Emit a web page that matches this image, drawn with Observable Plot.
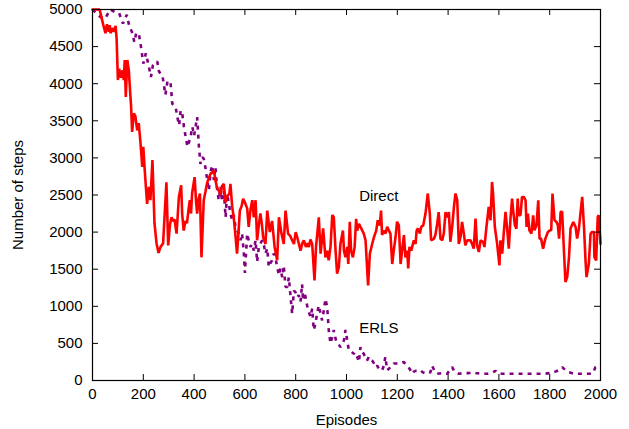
<!DOCTYPE html>
<html>
<head>
<meta charset="utf-8">
<script src="https://cdn.jsdelivr.net/npm/d3@7"></script>
<script src="https://cdn.jsdelivr.net/npm/@observablehq/plot@0.6"></script>
<style>
  html, body { margin: 0; padding: 0; background: #fff; }
  #chart { width: 629px; height: 429px; }
</style>
</head>
<body>
<div id="chart"></div>
<script>
// ---- data ----
const xTicks = [0, 200, 400, 600, 800, 1000, 1200, 1400, 1600, 1800, 2000];
const yTicks = [0, 500, 1000, 1500, 2000, 2500, 3000, 3500, 4000, 4500, 5000];
const xLabel = "Episodes";
const yLabel = "Number of steps";
const seriesNames = ["Direct", "ERLS"];
const seriesLabelEpisode = [1050, 1050];
const seriesLabelSteps = [2480, 700];

const directEpisodes = [0,10,20,28,35,42,51,57,64,68,71,78,84,91,95,100,105,112,118,123,127,131,137,143,148,152,156,163,169,176,182,189,196,200,205,212,215,222,228,236,244,252,260,268,278,291,298,305,311,317,323,331,340,349,353,359,366,372,378,383,388,392,402,408,412,418,423,429,438,445,451,458,465,472,478,484,490,497,504,510,517,524,530,539,543,550,556,563,569,575,580,587,593,600,609,615,622,629,635,642,648,655,661,667,672,681,688,698,707,717,727,734,744,753,760,770,778,786,793,800,806,812,819,826,832,840,846,852,858,865,874,880,891,898,908,917,924,930,937,944,950,957,963,970,976,986,990,996,1003,1007,1013,1018,1025,1032,1038,1042,1049,1055,1068,1075,1085,1092,1101,1108,1117,1123,1131,1136,1140,1147,1154,1160,1167,1173,1180,1186,1193,1199,1206,1213,1219,1226,1232,1239,1243,1248,1255,1265,1272,1276,1281,1289,1294,1302,1311,1320,1328,1333,1344,1350,1357,1363,1370,1377,1383,1390,1396,1403,1409,1416,1423,1429,1436,1442,1449,1455,1462,1468,1475,1488,1494,1501,1508,1514,1521,1528,1538,1543,1551,1560,1567,1573,1577,1584,1593,1602,1606,1613,1619,1626,1632,1639,1646,1652,1656,1663,1669,1674,1678,1685,1691,1698,1705,1709,1714,1720,1728,1735,1740,1748,1755,1760,1766,1774,1783,1793,1801,1806,1811,1819,1827,1832,1837,1843,1849,1856,1862,1869,1876,1882,1893,1902,1908,1915,1921,1928,1935,1941,1945,1954,1961,1967,1974,1976,1983,1989,1993,2000];
const directSteps = [5000,5000,5000,5000,4900,4800,4680,4800,4700,4790,4680,4750,4700,4780,4600,4050,4200,4080,4180,4050,4320,3820,4320,4180,3900,3690,3350,3600,3560,3370,3470,3200,2880,3150,2870,2520,2380,2610,2430,2970,2120,1850,1720,1800,1850,2670,1820,2100,2200,2150,2170,1980,2470,2630,2250,2020,2150,2120,2300,2430,2250,2520,2740,2400,2250,2450,2520,1660,2430,2550,2660,2730,2790,2800,2830,2700,2600,2560,2500,2620,2650,2400,2480,2520,2650,2340,2200,1950,1710,2000,2290,2350,2450,2400,2320,2070,2300,2430,2200,2430,1890,2100,2250,2100,1930,1840,2290,2000,2150,1800,1620,2200,1980,1840,2290,1980,1950,1890,1840,2000,1930,1850,1750,1850,1890,1800,1850,1800,1900,1840,1350,1800,2200,1710,2050,1660,1750,1620,1800,2230,2200,1750,1440,1530,1840,2020,1750,1660,1800,1570,2140,1750,1660,1800,2180,2020,2110,2070,1980,1890,1280,1710,1840,1930,2020,2160,2090,2290,1960,2020,1980,2070,2020,1980,1570,1750,1930,2140,2090,1570,1750,1960,1660,1750,1510,1800,1750,1890,1840,2020,2050,1980,2070,2090,2250,2520,2250,1890,1910,1960,2110,2270,1910,1890,1980,2270,2200,2270,1870,2070,2340,2520,2430,1840,1934,2137,1979,1822,1889,1889,1844,1777,2182,1822,1732,1889,1867,1799,2069,2339,2159,2676,2519,2069,1844,1552,1889,1709,1979,2272,2069,1777,2204,2452,2294,2092,2047,2452,2227,2227,2474,2474,2429,2069,2249,2024,1979,2227,2024,2092,2429,1912,1912,1777,1912,2002,2024,2024,2519,2159,2137,2092,1912,2272,2272,1754,1327,1394,1664,2047,2137,2069,1912,2047,2249,2474,2069,1619,1394,1574,1979,2002,2002,1664,1619,2204,2227,1844];

const erlsEpisodes = [0,15,30,50,70,90,105,120,135,145,155,165,172,182,190,200,210,222,230,238,255,262,275,287,295,307,314,327,334,341,347,354,360,367,374,386,393,400,412,419,425,432,438,445,451,458,465,471,478,484,491,497,504,510,517,524,530,537,543,550,556,563,570,576,583,589,596,600,609,616,622,629,635,642,648,655,662,668,675,681,688,694,700,707,714,720,727,734,740,747,753,760,767,773,780,786,793,799,806,812,819,825,829,835,845,852,858,865,871,878,884,891,898,904,911,917,924,930,937,944,950,957,963,970,976,983,990,996,1003,1009,1016,1022,1029,1035,1042,1049,1055,1062,1068,1075,1081,1088,1095,1101,1108,1114,1121,1127,1134,1140,1147,1153,1160,1167,1173,1180,1186,1199,1212,1225,1239,1250,1258,1265,1272,1282,1291,1300,1318,1330,1337,1345,1357,1375,1396,1405,1416,1425,1442,1460,1482,1495,1508,1530,1554,1570,1587,1600,1619,1640,1666,1690,1711,1740,1777,1800,1823,1836,1849,1862,1876,1895,1915,1935,1954,1970,1980,1993,2000];
const erlsSteps = [5000,4950,4900,4880,5000,4960,4950,4810,4930,4770,4700,4560,4680,4680,4520,4270,4410,4230,4090,4250,4300,4160,4120,3850,4030,4030,3730,3690,3550,3440,3640,3580,3420,3280,3150,3280,3420,3300,3550,3150,2920,3010,2990,2860,2720,2560,2810,2900,2700,2880,2560,2430,2610,2410,2560,2200,2520,2380,2250,2160,2230,2070,2020,1980,1890,1980,1710,1450,1980,1870,1800,1840,1750,1890,1600,1800,1850,1890,1820,1710,1780,1530,1580,1620,1710,1660,1530,1420,1510,1390,1550,1260,1260,1390,1120,900,1210,1190,1120,1150,1060,1300,1080,1190,1010,920,860,970,680,770,900,1010,900,810,950,1100,990,680,500,590,680,560,500,480,450,500,540,680,540,410,400,380,360,380,320,250,450,380,360,300,270,320,290,270,230,180,200,160,150,135,200,320,140,160,180,200,230,230,230,250,200,150,90,120,130,130,140,110,90,110,200,140,90,100,90,130,180,120,90,100,100,110,100,90,90,100,130,90,90,90,90,90,90,90,90,100,120,140,180,140,110,90,90,90,90,100,180,200,200];

// ---- build rows ----
const directRows = directEpisodes.map((e, i) => ({episode: e, steps: directSteps[i]}));
const erlsRows = erlsEpisodes.map((e, i) => ({episode: e, steps: erlsSteps[i]}));
const labelRows = seriesNames.map((n, i) => ({name: n, episode: seriesLabelEpisode[i], steps: seriesLabelSteps[i]}));

const FONT = "'Liberation Sans', Arial, Helvetica, sans-serif";
const FS = 15;
const W = 629, H = 429, ML = 92, MR = 29, MT = 9, MB = 49;
const PW = W - ML - MR, PH = H - MT - MB, TICK = 6;

const chart = Plot.plot({
  width: W,
  height: H,
  marginLeft: ML,
  marginRight: MR,
  marginTop: MT,
  marginBottom: MB,
  style: {fontFamily: FONT, fontSize: FS + "px", color: "#000", background: "#fff", overflow: "visible"},
  x: {domain: [0, 2000]},
  y: {domain: [0, 5000]},
  marks: [
    Plot.line(erlsRows, {x: "episode", y: "steps", stroke: "#800080", strokeWidth: 2.6, strokeDasharray: "4,5", strokeLinejoin: "miter", strokeLinecap: "butt"}),
    Plot.line(directRows, {x: "episode", y: "steps", stroke: "#ff0000", strokeWidth: 2.6, strokeLinejoin: "miter"}),
    Plot.text(labelRows, {x: "episode", y: "steps", text: "name", textAnchor: "start", fontSize: FS, fill: "#000"}),
    // inward ticks on all four sides
    Plot.ruleX(xTicks, {x: d => d, insetTop: PH - TICK, stroke: "#000"}),
    Plot.ruleX(xTicks, {x: d => d, insetBottom: PH - TICK, stroke: "#000"}),
    Plot.ruleY(yTicks, {y: d => d, insetRight: PW - TICK, stroke: "#000"}),
    Plot.ruleY(yTicks, {y: d => d, insetLeft: PW - TICK, stroke: "#000"}),
    // labels
    Plot.axisX(xTicks, {anchor: "bottom", tickSize: 0, tickPadding: 8, fontSize: FS, tickFormat: d => String(d), label: xLabel, labelAnchor: "center", labelOffset: 44, labelArrow: "none"}),
    Plot.axisY(yTicks, {anchor: "left", tickSize: 0, tickPadding: 10, fontSize: FS, tickFormat: d => String(d), label: yLabel, labelAnchor: "center", labelOffset: 80, labelArrow: "none"}),
    Plot.frame({stroke: "#000", strokeWidth: 1.2})
  ]
});
document.getElementById("chart").appendChild(chart);
</script>
</body>
</html>
